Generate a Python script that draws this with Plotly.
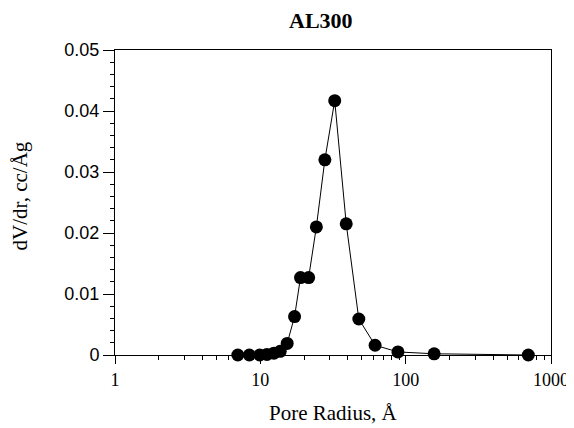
import plotly.graph_objects as go

pore_radius = [7.0, 8.4, 9.9, 11.1, 12.4, 13.7, 15.3, 17.2, 18.9, 21.5, 24.3, 27.8, 32.5,
               39.0, 47.6, 61.6, 88.5, 157, 698]
dvdr = [0.0, 0.0, 0.0, 0.0001, 0.0003, 0.0006, 0.0019, 0.0063, 0.0127, 0.0127, 0.0210,
        0.0320, 0.0417, 0.0215, 0.0059, 0.0016, 0.0005, 0.0002, 0.0]

x_tickvals = [1, 10, 100, 1000]
x_ticktext = ["1", "10", "100", "1000"]
x_minor = [m * d for d in (1, 10, 100) for m in range(2, 10)]
y_tickvals = [0, 0.01, 0.02, 0.03, 0.04, 0.05]
y_ticktext = ["0", "0.01", "0.02", "0.03", "0.04", "0.05"]

serif = "Liberation Serif"
sans = "Liberation Sans"

fig = go.Figure()
fig.add_trace(go.Scatter(
    x=pore_radius, y=dvdr, mode="lines+markers",
    line=dict(color="black", width=1),
    marker=dict(color="black", size=13),
    cliponaxis=False, showlegend=False,
))

# page body has an 8px default margin, so the figure is 8px smaller
fig.update_layout(
    width=566, height=420,
    margin=dict(l=107, r=23, t=42, b=73, autoexpand=False),
    paper_bgcolor="white", plot_bgcolor="white",
    font=dict(family=serif, size=17, color="black"),
    xaxis=dict(
        type="log", range=[0, 3], automargin=False,
        tickvals=x_tickvals, ticktext=x_ticktext,
        tickfont=dict(family=serif, size=18),
        ticks="outside", ticklen=8, tickwidth=1, tickcolor="black",
        minor=dict(tickvals=x_minor, ticks="outside", ticklen=4, tickcolor="black", showgrid=False),
        showline=True, linecolor="black", linewidth=1, mirror=True,
        showgrid=False, zeroline=False,
    ),
    yaxis=dict(
        range=[0, 0.05], automargin=False,
        tickvals=y_tickvals, ticktext=y_ticktext,
        tickfont=dict(family=sans, size=18),
        ticks="outside", ticklen=11, tickwidth=1, tickcolor="black",
        minor=dict(dtick=0.002, ticks="outside", ticklen=4, tickcolor="black", showgrid=False),
        showline=True, linecolor="black", linewidth=1, mirror=True,
        showgrid=False, zeroline=False,
    ),
    annotations=[
        dict(text="<b>AL300</b>", xref="paper", yref="paper", x=0.5, y=1,
             xanchor="center", yanchor="middle", xshift=-12, yshift=30,
             showarrow=False, font=dict(family=serif, size=22)),
        dict(text="Pore Radius, Å", xref="paper", yref="paper", x=0.5, y=0,
             xanchor="center", yanchor="middle", yshift=-58,
             showarrow=False, font=dict(family=serif, size=21)),
        dict(text="dV/dr, cc/Åg", xref="paper", yref="paper", x=0, y=0.5,
             xanchor="center", yanchor="middle", xshift=-96, yshift=6, textangle=-90,
             showarrow=False, font=dict(family=serif, size=21)),
    ],
)

fig.write_html("out.html")
